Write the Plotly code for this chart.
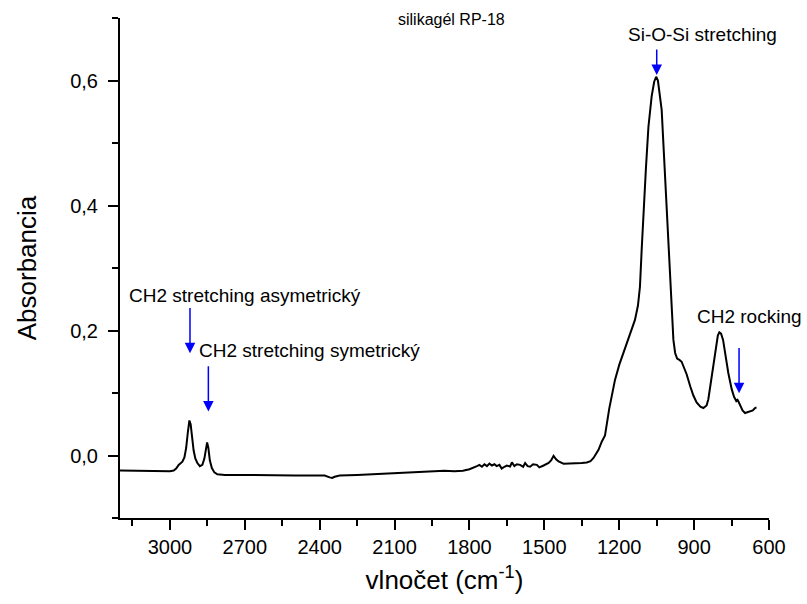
import plotly.graph_objects as go

# Wavenumber (cm-1) and absorbance
wavenumber = [
    3200, 3150, 3100, 3050, 3000, 2985, 2975, 2965, 2958, 2950, 2942, 2935, 2928,
    2922, 2917, 2912, 2905, 2898, 2890, 2880, 2870, 2862, 2856, 2851, 2846, 2840,
    2832, 2822, 2810, 2780, 2700, 2600, 2500, 2420, 2380, 2360, 2350, 2340, 2320,
    2250, 2200, 2100, 2000, 1950, 1900, 1860, 1826, 1800, 1786, 1770, 1760, 1750,
    1740, 1730, 1720, 1710, 1700, 1691, 1680, 1671, 1660, 1650, 1637, 1630, 1620,
    1610, 1597, 1585, 1577, 1567, 1557, 1545, 1530, 1520, 1503, 1490, 1483, 1473,
    1463, 1453, 1443, 1423, 1400, 1370, 1350, 1330, 1315, 1303, 1290, 1283, 1270,
    1257, 1240, 1217, 1200, 1184, 1160, 1137, 1125, 1117, 1110, 1103, 1093, 1083,
    1070, 1060, 1052, 1045, 1038, 1030, 1020, 1010, 1000, 990, 983, 976, 968, 959,
    950, 940, 930, 915, 903, 890, 875, 863, 850, 843, 835, 823, 812, 805, 799, 792,
    784, 775, 763, 750, 740, 731, 726, 722, 716, 706, 696, 686, 676, 665, 656, 650,
]
absorbance = [
    -0.024, -0.0245, -0.025, -0.0255, -0.025, -0.024, -0.021, -0.015, -0.012, -0.010,
    -0.003, 0.012, 0.038, 0.056, 0.050, 0.030, 0.008, -0.005, -0.012, -0.017, -0.015,
    -0.005, 0.012, 0.021, 0.012, -0.008, -0.020, -0.027, -0.030, -0.031, -0.031,
    -0.032, -0.032, -0.032, -0.032, -0.035, -0.036, -0.034, -0.032, -0.031, -0.030,
    -0.029, -0.027, -0.026, -0.0245, -0.025, -0.0245, -0.022, -0.020, -0.017, -0.015,
    -0.018, -0.014, -0.017, -0.013, -0.016, -0.014, -0.017, -0.015, -0.021, -0.018,
    -0.016, -0.0176, -0.011, -0.017, -0.014, -0.015, -0.018, -0.012, -0.017, -0.018,
    -0.014, -0.015, -0.019, -0.016, -0.014, -0.012, -0.008, -0.0005, -0.006, -0.0096,
    -0.013, -0.013, -0.013, -0.012, -0.0112, -0.009, -0.004, 0.004, 0.009, 0.022,
    0.032, 0.075, 0.121, 0.145, 0.164, 0.190, 0.217, 0.240, 0.270, 0.330, 0.393,
    0.460, 0.526, 0.575, 0.598, 0.606, 0.600, 0.580, 0.553, 0.475, 0.393, 0.310,
    0.228, 0.185, 0.164, 0.155, 0.153, 0.150, 0.140, 0.130, 0.110, 0.096, 0.085,
    0.078, 0.076, 0.080, 0.090, 0.110, 0.140, 0.175, 0.192, 0.197, 0.195, 0.185,
    0.160, 0.132, 0.107, 0.094, 0.087, 0.089, 0.086, 0.081, 0.072, 0.068, 0.069,
    0.070, 0.072, 0.076, 0.077,
]

x_tick_values = [3000, 2700, 2400, 2100, 1800, 1500, 1200, 900, 600]
y_tick_values = [0.0, 0.2, 0.4, 0.6]

FONT = "Liberation Sans, Arial, sans-serif"

fig = go.Figure()
fig.add_trace(go.Scatter(
    x=wavenumber, y=absorbance, mode="lines",
    line=dict(color="black", width=2), showlegend=False, hoverinfo="skip",
))

labels = [
    dict(text="silikagél RP-18", x=1870, y=0.697, size=16),
    dict(text="Si-O-Si stretching", x=868, y=0.673, size=19),
    dict(text="CH2 stretching asymetrický", x=2699, y=0.2555, size=19),
    dict(text="CH2 stretching symetrický", x=2439, y=0.1675, size=19),
    dict(text="CH2 rocking", x=680, y=0.222, size=19),
]
annotations = []
for lab in labels:
    annotations.append(dict(
        text=lab["text"], x=lab["x"], y=lab["y"], xref="x", yref="y",
        showarrow=False, xanchor="center", yanchor="middle",
        font=dict(family=FONT, size=lab["size"], color="black"),
    ))

arrows = [
    (2919.6, 0.1638, 0.2384),
    (2846, 0.0704, 0.1451),
    (1049.8, 0.609, 0.652),
    (720, 0.0998, 0.1744),
]
for ax_x, tip, tail in arrows:
    annotations.append(dict(
        x=ax_x, y=tip, ax=ax_x, ay=tail, xref="x", yref="y", axref="x", ayref="y",
        text="", showarrow=True, arrowhead=2, arrowsize=1.4, arrowwidth=1.5,
        arrowcolor="#0000ff", standoff=0,
    ))

fig.update_layout(
    width=807, height=604,
    margin=dict(l=120, r=38, t=18, b=86),
    paper_bgcolor="white", plot_bgcolor="white",
    separators=", ",
    font=dict(family=FONT, color="black"),
    annotations=annotations,
    xaxis=dict(
        range=[3200, 600], autorange=False,
        tickmode="array", tickvals=x_tick_values,
        ticks="outside", ticklen=10, tickwidth=2, tickcolor="black",
        minor=dict(dtick=150, tick0=600, ticks="outside", ticklen=6, tickwidth=2, tickcolor="black"),
        showline=True, linewidth=2, linecolor="black", mirror=False,
        showgrid=False, zeroline=False,
        tickfont=dict(family=FONT, size=20, color="black"),
        title=dict(text="vlnočet (cm<sup>-1</sup>)", font=dict(family=FONT, size=26, color="black"), standoff=14),
        automargin=False,
    ),
    yaxis=dict(
        range=[-0.1, 0.7], autorange=False,
        tickmode="array", tickvals=y_tick_values, tickformat=".1f",
        ticks="outside", ticklen=10, tickwidth=2, tickcolor="black",
        minor=dict(dtick=0.1, tick0=0, ticks="outside", ticklen=6, tickwidth=2, tickcolor="black"),
        showline=True, linewidth=2, linecolor="black", mirror=False,
        showgrid=False, zeroline=False,
        tickfont=dict(family=FONT, size=20, color="black"),
        ticklabelstandoff=6,
        title=dict(text="Absorbancia", font=dict(family=FONT, size=26, color="black"), standoff=26),
        automargin=False,
    ),
)

fig.write_html("out.html")
